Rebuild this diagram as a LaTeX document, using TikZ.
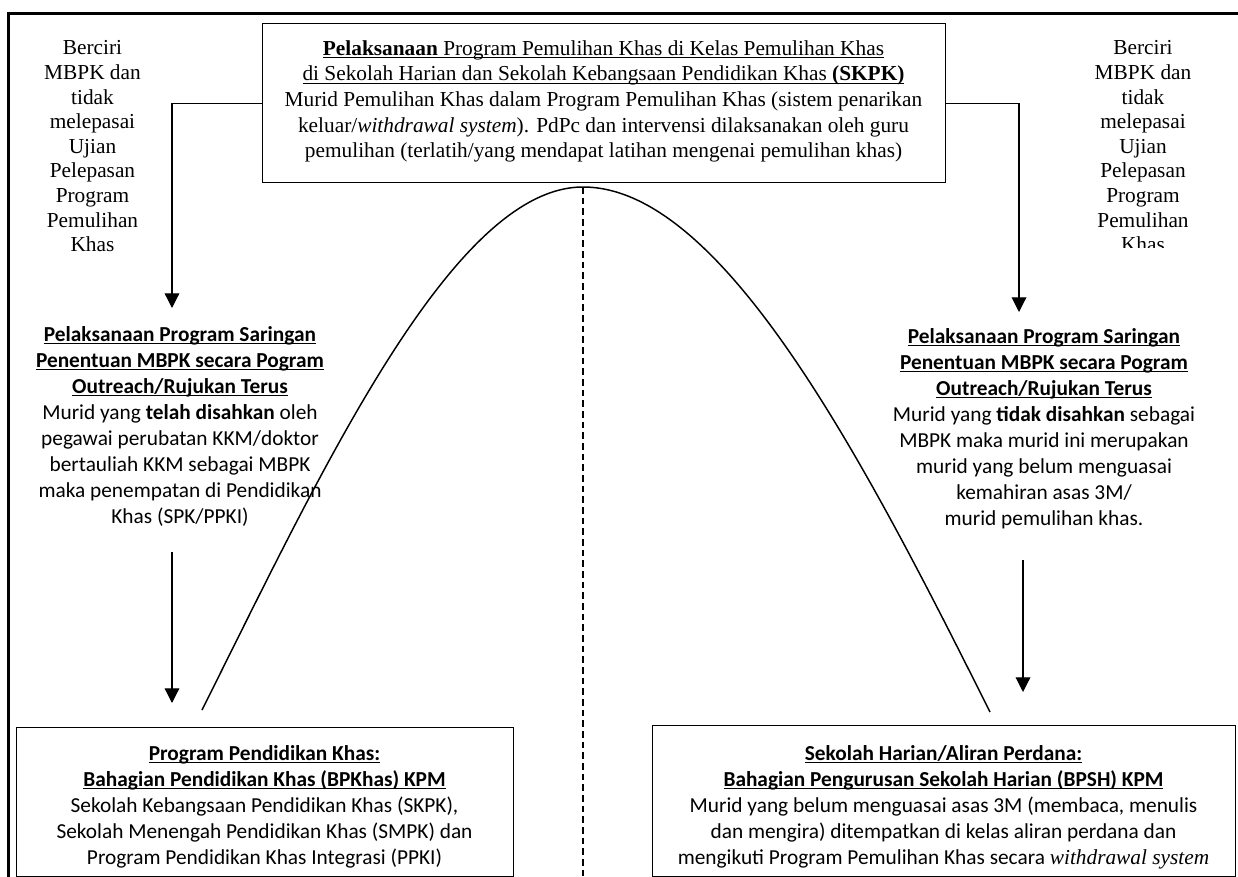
\documentclass[tikz,border=0pt]{standalone}
\usepackage{fontspec}
\setmainfont{Liberation Serif}
\newfontfamily\calfont{Carlito}
\usetikzlibrary{arrows.meta}
\newcommand{\ulx}[1]{\leavevmode\setbox0\hbox{#1}\rlap{\rule[-2.4pt]{\wd0}{1pt}}\box0}
\tikzset{
  frame/.style={line width=1.9pt},
  box/.style={draw, line width=1.1pt, inner sep=0pt, anchor=north west},
  conn/.style={line width=0.9pt},
  arr/.style={conn, -{Triangle[length=11pt,width=11pt]}},
  curveline/.style={line width=1.1pt},
  dashline/.style={line width=1.1pt, dash pattern=on 5pt off 3pt},
  serif/.style={font=\fontsize{16}{18.45}\selectfont, align=center, inner sep=0pt, anchor=north},
  serifbox/.style={font=\fontsize{16}{19.3}\selectfont, align=center, inner sep=0pt, anchor=north},
  cal/.style={font=\calfont\fontsize{16}{19.5}\selectfont, align=center, inner sep=0pt, anchor=north},
}
\begin{document}
\begin{tikzpicture}[x=0.75pt,y=-0.75pt]
\useasboundingbox (0,0) rectangle (1238,877);
% outer frame
\draw[frame] (8.7,877) |- (1238,13.3);
% boxes
\node[box, minimum width=512.25pt, minimum height=119.25pt] (top) at (262,23) {};
\node[box, minimum width=372.75pt, minimum height=111.75pt] (bl) at (16,727) {};
\node[box, minimum width=437.25pt, minimum height=113.25pt] (br) at (652,725) {};
% top box text
\node[serifbox] (toptext) at (603.5,40) {\ulx{\textbf{Pelaksanaan} Program Pemulihan Khas di Kelas Pemulihan Khas}\\
\ulx{di Sekolah Harian dan Sekolah Kebangsaan Pendidikan Khas \textbf{(SKPK)}}\\
Murid Pemulihan Khas dalam Program Pemulihan Khas (sistem penarikan\\
keluar/\textit{withdrawal system}). PdPc dan intervensi dilaksanakan oleh guru\\
pemulihan (terlatih/yang mendapat latihan mengenai pemulihan khas)};
% side texts
\node[serif] (lside) at (92.5,40.5) {Berciri\\MBPK dan\\tidak\\melepasai\\Ujian\\Pelepasan\\Program\\Pemulihan\\Khas};
\begin{scope}
\clip (1050,30) rectangle (1238,248);
\node[serif] (rside) at (1143,40.5) {Berciri\\MBPK dan\\tidak\\melepasai\\Ujian\\Pelepasan\\Program\\Pemulihan\\Khas};
\end{scope}
% middle texts
\node[cal] (lmid) at (180,326) {\ulx{\textbf{Pelaksanaan Program Saringan}}\\
\ulx{\textbf{Penentuan MBPK secara Pogram}}\\
\ulx{\textbf{Outreach/Rujukan Terus}}\\
Murid yang \textbf{telah disahkan} oleh\\
pegawai perubatan KKM/doktor\\
bertauliah KKM sebagai MBPK\\
maka penempatan di Pendidikan\\
Khas (SPK/PPKI)};
\node[cal] (rmid) at (1044,328) {\ulx{\textbf{Pelaksanaan Program Saringan}}\\
\ulx{\textbf{Penentuan MBPK secara Pogram}}\\
\ulx{\textbf{Outreach/Rujukan Terus}}\\
Murid yang \textbf{tidak disahkan} sebagai\\
MBPK maka murid ini merupakan\\
murid yang belum menguasai\\
kemahiran asas 3M/\\
murid pemulihan khas.};
% bottom texts
\node[cal] (bltext) at (264.5,745) {\ulx{\textbf{Program Pendidikan Khas:}}\\
\ulx{\textbf{Bahagian Pendidikan Khas (BPKhas) KPM}}\\
Sekolah Kebangsaan Pendidikan Khas (SKPK),\\
Sekolah Menengah Pendidikan Khas (SMPK) dan\\
Program Pendidikan Khas Integrasi (PPKI)};
\node[cal] (brtext) at (943.5,745) {\ulx{\textbf{Sekolah Harian/Aliran Perdana:}}\\
\ulx{\textbf{Bahagian Pengurusan Sekolah Harian (BPSH) KPM}}\\
Murid yang belum menguasai asas 3M (membaca, menulis\\
dan mengira) ditempatkan di kelas aliran perdana dan\\
mengikuti Program Pemulihan Khas secara {\rmfamily\itshape withdrawal system}};
% connectors
\coordinate (la1) at (172,308);
\coordinate (ra1) at (1019,312);
\coordinate (la2s) at (172,552);
\coordinate (la2e) at (172,703);
\coordinate (ra2s) at (1023,560);
\coordinate (ra2e) at (1023,692);
\draw[arr] (top.west) -| (la1);
\draw[arr] (top.east) -| (ra1);
\draw[arr] (la2s) -- (la2e);
\draw[arr] (ra2s) -- (ra2e);
% curve and dashed axis
\coordinate (cl) at (202,710);
\coordinate (apex) at (583,187);
\coordinate (cr) at (990,712);
\coordinate (axisend) at (583,877);
\draw[curveline] (cl) .. controls (322,470) and (453,187) .. (apex) .. controls (723,187) and (865,462) .. (cr);
\draw[dashline] (apex) -- (axisend);
\end{tikzpicture}
\end{document}
